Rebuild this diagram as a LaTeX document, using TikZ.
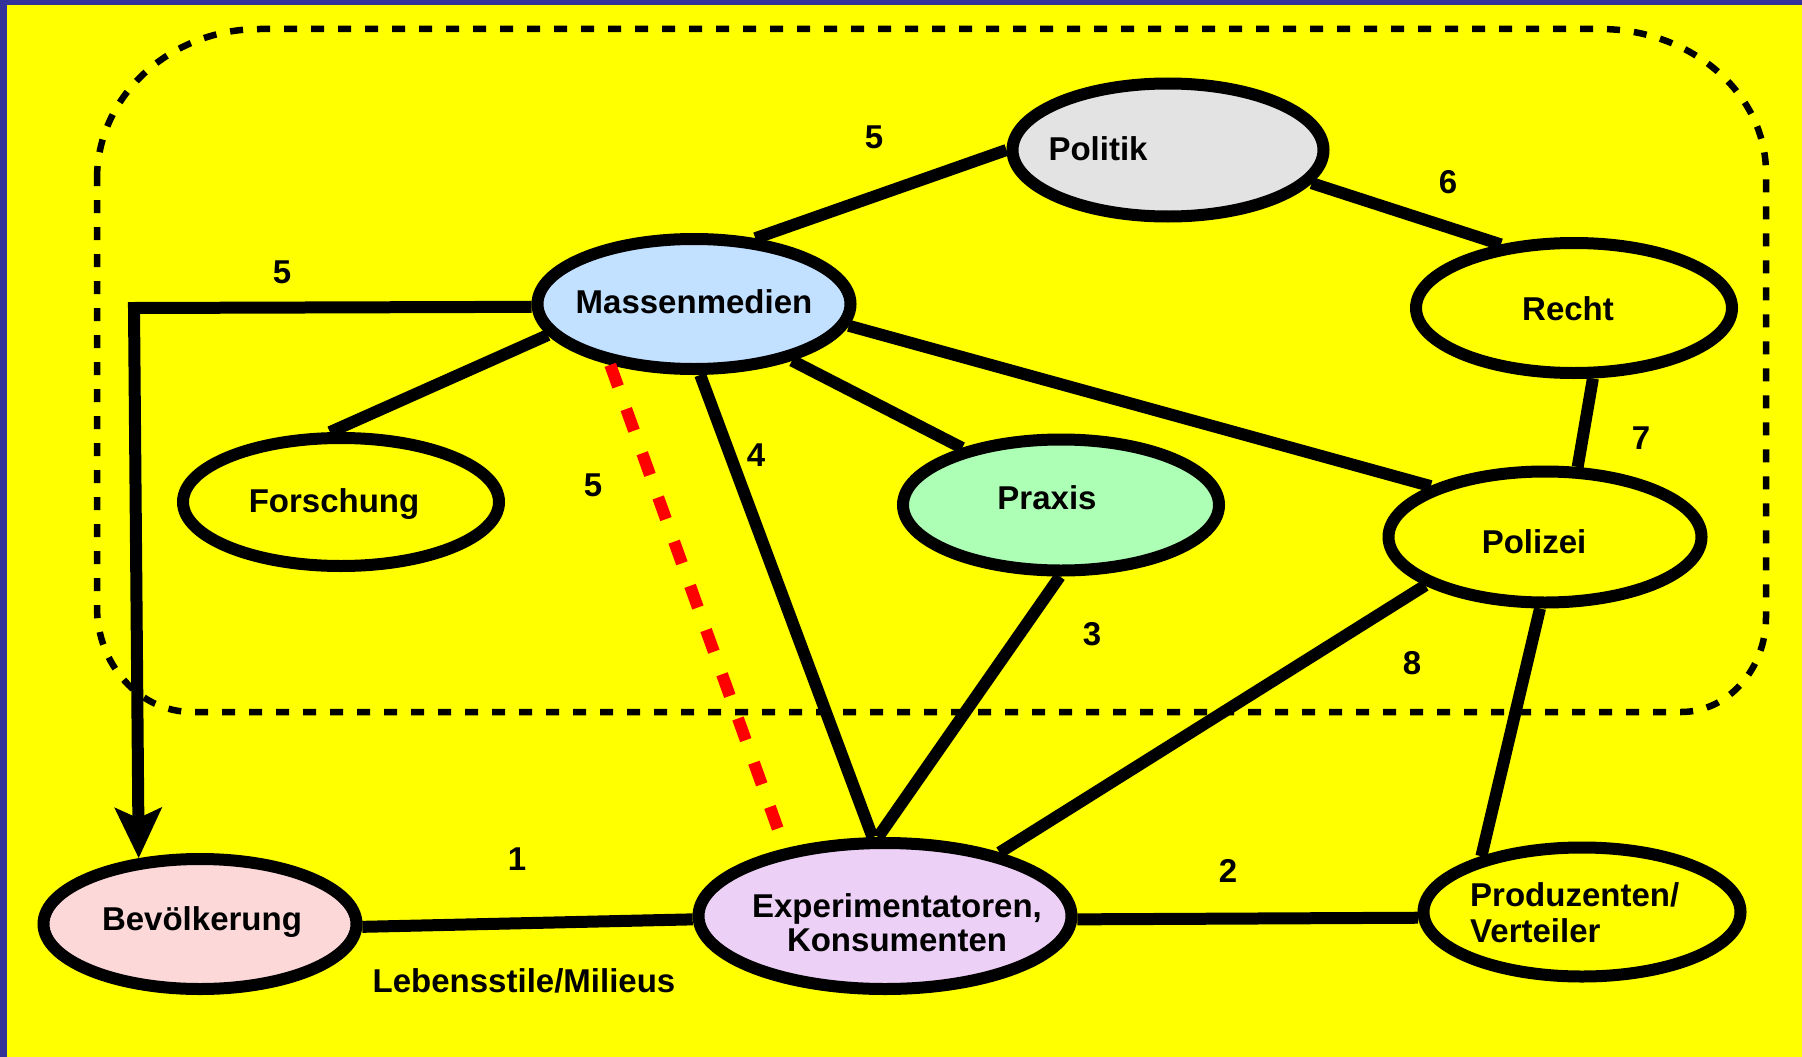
\documentclass[tikz,border=0pt]{standalone}
\usepackage{fontspec}
\setmainfont{Liberation Sans}
\usetikzlibrary{arrows.meta,shapes.geometric}
\definecolor{frameblue}{RGB}{51,51,153}
\definecolor{bgyellow}{RGB}{255,255,0}
\definecolor{politikgray}{RGB}{227,227,227}
\definecolor{medienblue}{RGB}{194,224,255}
\definecolor{praxisgreen}{RGB}{172,255,180}
\definecolor{bevpink}{RGB}{252,216,216}
\definecolor{explilac}{RGB}{236,208,246}
\begin{document}
\begin{tikzpicture}[x=1pt,y=-1pt,
  actor/.style={ellipse, draw=black, line width=12pt, inner sep=0pt,
    outer sep=6pt, fill=bgyellow},
  lbl/.style={font=\bfseries\fontsize{33}{34}\selectfont, inner sep=0pt},
  link/.style={line width=12pt, line join=miter},
  redlink/.style={line width=12pt, red, dash pattern=on 23pt off 24pt},
  scope/.style={line width=6.5pt, dash pattern=on 13pt off 14pt}]
\useasboundingbox (0,0) rectangle (1802,1057);
% background with blue edge at top and left
\fill[frameblue] (0,0) rectangle (1802,1057);
\fill[bgyellow] (7,5) rectangle (1802,1057);

% dashed system boundary
\draw[scope] (97,179) .. controls (97,96) and (170,29) .. (260,29)
  -- (1600,29) .. controls (1692,29) and (1766,94) .. (1766,173)
  -- (1766,617) .. controls (1766,669) and (1728,712) .. (1681,712)
  -- (192,712) .. controls (140,712) and (97,665) .. (97,607) -- cycle;

% actors
\node[actor, fill=politikgray, minimum width=311pt, minimum height=133pt] (pol) at (1168,150) {};
\node[actor, fill=medienblue, minimum width=313pt, minimum height=130pt] (mm) at (694,304) {};
\node[actor, minimum width=316pt, minimum height=130pt] (recht) at (1574,308) {};
\node[actor, minimum width=316pt, minimum height=128pt] (for) at (341,502) {};
\node[actor, fill=praxisgreen, minimum width=316pt, minimum height=131pt] (prax) at (1061,505) {};
\node[actor, minimum width=313pt, minimum height=131pt] (poliz) at (1545,537) {};
\node[actor, fill=bevpink, minimum width=313pt, minimum height=130pt] (bev) at (200,924) {};
\node[actor, fill=explilac, minimum width=373pt, minimum height=146pt] (exp) at (885,916) {};
\node[actor, minimum width=317pt, minimum height=129pt] (prod) at (1582,912) {};

% actor names (base anchor of a two-line node is its last line)
\node[lbl, anchor=base] (tpol) at (1098,160) {Politik};
\node[lbl, anchor=base] (tmm) at (694,313) {Massenmedien};
\node[lbl, anchor=base] (trecht) at (1568,320) {Recht};
\node[lbl, anchor=base] (tfor) at (334,512) {Forschung};
\node[lbl, anchor=base] (tprax) at (1047,509) {Praxis};
\node[lbl, anchor=base] (tpoliz) at (1534,553) {Polizei};
\node[lbl, anchor=base] (tbev) at (202,930) {Bevölkerung};
\node[lbl, anchor=base, align=center] (texp) at (897,951) {Experimentatoren,\\Konsumenten};
\node[lbl, anchor=base west, align=left, font=\bfseries\fontsize{33}{36}\selectfont] (tprod) at (1470,942) {Produzenten/\\Verteiler};

% relations
\coordinate (bend) at (134,308);
\draw[link] (mm.47) -- (pol.west);
\draw[link] (pol.347) -- (recht.139);
\draw[link, -{Stealth[length=50pt,width=46pt,inset=10pt]}] (mm.181) -- (bend) -- (bev.133);
\draw[link] (mm.192) -- (for.99);
\draw[link] (mm.330) -- (prax.150);
\draw[link] (mm.352) -- (poliz.156);
\draw[link] (mm.275) -- (exp.99);
\draw[link] (prax.269) -- (exp.95);
\draw[link] (recht.285) -- (poliz.65);
\draw[link] (poliz.202) -- (exp.29);
\draw[link] (poliz.266) -- (prod.151);
\draw[link] (bev.359) -- (exp.181);
\draw[link] (exp.359) -- (prod.182);
\draw[redlink] (mm.216) -- (exp.146);

% relation numbers
\node[lbl] (n1) at (874,137) {5};
\node[lbl] (n2) at (1448,182) {6};
\node[lbl] (n3) at (282,272) {5};
\node[lbl] (n4) at (756,455) {4};
\node[lbl] (n5) at (593,485) {5};
\node[lbl] (n6) at (1641,438) {7};
\node[lbl] (n7) at (1092,634) {3};
\node[lbl] (n8) at (1412,663) {8};
\node[lbl] (n9) at (517,859) {1};
\node[lbl] (n10) at (1228,871) {2};
\node[lbl] (milieu) at (524,981) {Lebensstile/Milieus};
\end{tikzpicture}
\end{document}
